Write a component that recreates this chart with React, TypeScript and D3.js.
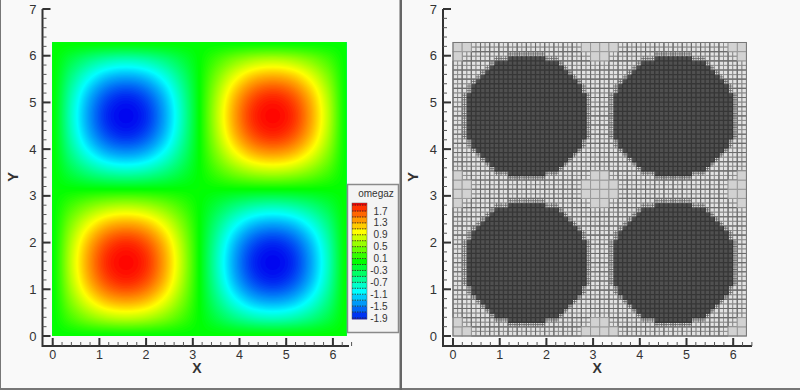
import React, { useMemo } from "react";
import * as d3 from "d3";

// --- data ---
const xTickValues = [0, 1, 2, 3, 4, 5, 6];
const yTickValues = [0, 1, 2, 3, 4, 5, 6, 7];
const legendLabels = [1.7, 1.3, 0.9, 0.5, 0.1, -0.3, -0.7, -1.1, -1.5, -1.9];
const colorStops = [-2, -1, 0, 1, 2];
const colorValues = ["#0000f0", "#00ffff", "#00ff00", "#ffff00", "#ff0000"];
// one quadrant of the omegaz field, sampled every pi/8 (y rows, x columns)
const omegaQuadrant = [
  [0, 0, 0, 0, 0, 0, 0, 0, 0],
  [0, 0.29, 0.54, 0.71, 0.77, 0.71, 0.54, 0.29, 0],
  [0, 0.54, 1.0, 1.31, 1.41, 1.31, 1.0, 0.54, 0],
  [0, 0.71, 1.31, 1.71, 1.85, 1.71, 1.31, 0.71, 0],
  [0, 0.77, 1.41, 1.85, 1.98, 1.85, 1.41, 0.77, 0],
  [0, 0.71, 1.31, 1.71, 1.85, 1.71, 1.31, 0.71, 0],
  [0, 0.54, 1.0, 1.31, 1.41, 1.31, 1.0, 0.54, 0],
  [0, 0.29, 0.54, 0.71, 0.77, 0.71, 0.54, 0.29, 0],
  [0, 0, 0, 0, 0, 0, 0, 0, 0],
];
// half width (in cells of pi/32) of each refined disc, per row counted from its centre
const discHalfWidths = [13, 13, 13, 13, 13, 12, 12, 11, 10, 9, 8, 7, 4];
// coarse (pi/16) blocks: [column, row] counted from bottom-left on a 32x32 lattice
const coarseBlocks = [
  [0, 0], [1, 0], [0, 1], [31, 0], [30, 0], [31, 1], [0, 31], [1, 31], [0, 30], [31, 31], [30, 31], [31, 30],
  [14, 0], [15, 0], [16, 0], [17, 0], [15, 1], [16, 1],
  [14, 31], [15, 31], [16, 31], [17, 31], [15, 30], [16, 30],
  [0, 14], [0, 15], [0, 16], [0, 17], [1, 15], [1, 16],
  [31, 14], [31, 15], [31, 16], [31, 17], [30, 15], [30, 16],
  [15, 14], [16, 14], [14, 15], [15, 15], [16, 15], [17, 15], [14, 16], [15, 16], [16, 16], [17, 16], [15, 17], [16, 17],
];
const TWO_PI = 6.2832;

const FONT = "'Liberation Sans', Arial, sans-serif";
const INK = "#333";
const BG = "#f9f9f9";

const xLeft = d3.scaleLinear().domain([0, 6]).range([52.7, 332.9]);
const xRight = d3.scaleLinear().domain([0, 6]).range([453, 733.2]);
const yS = d3.scaleLinear().domain([0, 7]).range([336, 9]);
const color = d3.scaleLinear<string>().domain(colorStops).range(colorValues).clamp(true);

function buildField() {
  const n = 16;
  const full: number[][] = [];
  for (let j = 0; j <= n; j++) {
    const row: number[] = [];
    for (let i = 0; i <= n; i++) {
      const sj = j > 8 ? -1 : 1;
      const si = i > 8 ? -1 : 1;
      const q = omegaQuadrant[j > 8 ? j - 8 : j][i > 8 ? i - 8 : i];
      row.push(q * si * sj);
    }
    full.push(row);
  }
  // Catmull-Rom upsampling for drawing only
  const f = 6;
  const N = n * f + 1;
  const at = (j: number, i: number) =>
    full[Math.max(0, Math.min(n, j))][Math.max(0, Math.min(n, i))];
  const cr = (a: number, b: number, c: number, d: number, t: number) =>
    0.5 * (2 * b + (c - a) * t + (2 * a - 5 * b + 4 * c - d) * t * t + (3 * b - a - 3 * c + d) * t * t * t);
  const out = new Array(N * N);
  for (let J = 0; J < N; J++) {
    const j = Math.min(n - 1, Math.floor(J / f));
    const tj = J / f - j;
    for (let I = 0; I < N; I++) {
      const i = Math.min(n - 1, Math.floor(I / f));
      const ti = I / f - i;
      const col = [-1, 0, 1, 2].map((dj) =>
        cr(at(j + dj, i - 1), at(j + dj, i), at(j + dj, i + 1), at(j + dj, i + 2), ti)
      );
      out[J * N + I] = cr(col[0], col[1], col[2], col[3], tj);
    }
  }
  return { values: out, N };
}

function FieldLayer() {
  const paths = useMemo(() => {
    const { values, N } = buildField();
    const thresholds = d3.range(-2.1, 2.1, 0.035);
    const conts = d3.contours().size([N, N]).thresholds(thresholds)(values);
    const h = TWO_PI / (N - 1);
    const tr = d3.geoTransform({
      point(x: number, y: number) {
        this.stream.point(xLeft((x - 0.5) * h), yS((y - 0.5) * h));
      },
    });
    const gp = d3.geoPath(tr);
    return conts.map((c) => ({ d: gp(c) || "", v: c.value }));
  }, []);
  return (
    <g clipPath="url(#fieldClip)">
      <rect x={xLeft(0)} y={yS(TWO_PI)} width={xLeft(TWO_PI) - xLeft(0)} height={yS(0) - yS(TWO_PI)} fill={color(-2.1)} />
      {paths.map((p, i) => (
        <path key={i} d={p.d} fill={color(p.v + 0.0175)} stroke="none" />
      ))}
    </g>
  );
}

function MeshLayer() {
  const m = 64; // lattice of pi/32 cells
  const h = TWO_PI / m;
  const px = (i: number) => xRight(i * h);
  const py = (j: number) => yS(j * h);
  const { darkCells, ring, fine, heavy } = useMemo(() => {
    const inDisc = (i: number, j: number) => {
      for (const cx of [16, 48]) {
        for (const cy of [16, 48]) {
          const k = j >= cy ? j - cy : cy - 1 - j;
          const hw = k < discHalfWidths.length ? discHalfWidths[k] : 0;
          if (i >= cx - hw && i < cx + hw) return true;
        }
      }
      return false;
    };
    const dark: number[][] = [];
    const ringCells: number[][] = [];
    for (let j = 0; j < m; j++) {
      for (let i = 0; i < m; i++) {
        if (inDisc(i, j)) dark.push([i, j]);
        else if (inDisc(i - 1, j) || inDisc(i + 1, j) || inDisc(i, j - 1) || inDisc(i, j + 1)) ringCells.push([i, j]);
      }
    }
    const coarseSet = new Set(coarseBlocks.map(([a, b]) => `${a},${b}`));
    let finePath = "";
    let heavyPath = "";
    for (let j = 0; j < m; j++) {
      for (let i = 0; i < m; i++) {
        const inCoarse = coarseSet.has(`${i >> 1},${j >> 1}`);
        if (inCoarse) continue;
        finePath += `M${px(i)},${py(j)}H${px(i + 1)}V${py(j + 1)}H${px(i)}Z`;
        if (i % 2 === 0) heavyPath += `M${px(i)},${py(j)}V${py(j + 1)}`;
        if (j % 2 === 0) heavyPath += `M${px(i)},${py(j)}H${px(i + 1)}`;
      }
    }
    return { darkCells: dark, ring: ringCells, fine: finePath, heavy: heavyPath };
  }, []);
  const cw = px(1) - px(0);
  const ch = py(0) - py(1);
  return (
    <g>
      <rect x={px(0)} y={py(m)} width={px(m) - px(0)} height={py(0) - py(m)} fill="#e2e2e2" />
      <path d={fine} fill="none" stroke="#8c8c8c" strokeWidth={0.8} />
      <path d={heavy} fill="none" stroke="#6c6c6c" strokeWidth={1.1} />
      {coarseBlocks.map(([a, b], i) => (
        <rect key={i} x={px(2 * a)} y={py(2 * b + 2)} width={2 * cw} height={2 * ch} fill="#d2d2d2" stroke="#9a9a9a" strokeWidth={1} />
      ))}
      {ring.map(([i, j], k) => (
        <path
          key={k}
          d={`M${px(i) + cw / 2},${py(j)}V${py(j + 1)}M${px(i)},${py(j) - ch / 2}H${px(i + 1)}`}
          stroke="#666"
          strokeWidth={0.8}
          fill="none"
        />
      ))}
      {darkCells.map(([i, j], k) => (
        <rect key={k} x={px(i)} y={py(j + 1)} width={cw + 0.3} height={ch + 0.3} fill="#505050" />
      ))}
      <path
        d={darkCells.map(([i, j]) => `M${px(i)},${py(j)}H${px(i + 1)}V${py(j + 1)}`).join("")}
        fill="none"
        stroke="#363636"
        strokeWidth={1.3}
      />
      <rect x={px(0)} y={py(m)} width={px(m) - px(0)} height={py(0) - py(m)} fill="none" stroke="#777" strokeWidth={1} />
    </g>
  );
}

function Axes({ x, axisX, endX, labelY }: { x: d3.ScaleLinear<number, number>; axisX: number; endX: number; labelY: number }) {
  const minorX = d3.range(0, 6.41, 0.2);
  const minorY = d3.range(0, 7.01, 0.2);
  const axisY = 346;
  const cx = (x(0) + x(6.3)) / 2 - 3;
  return (
    <g fontFamily={FONT} fill={INK}>
      <line x1={axisX} x2={axisX} y1={yS(7)} y2={axisY + 1} stroke={INK} strokeWidth={2} />
      <line x1={axisX} x2={endX} y1={axisY} y2={axisY} stroke={INK} strokeWidth={2} />
      {minorX.map((v) => (
        <line key={v} x1={x(v)} x2={x(v)} y1={axisY} y2={axisY - 4} stroke="#555" strokeWidth={1} />
      ))}
      {minorY.map((v) => (
        <line key={v} x1={axisX} x2={axisX + 4} y1={yS(v)} y2={yS(v)} stroke="#555" strokeWidth={1} />
      ))}
      {xTickValues.map((v) => (
        <g key={v}>
          <line x1={x(v)} x2={x(v)} y1={axisY} y2={axisY - 8} stroke={INK} strokeWidth={2} />
          <text x={x(v)} y={359} fontSize={12.5} textAnchor="middle">{v}</text>
        </g>
      ))}
      {yTickValues.map((v) => (
        <g key={v}>
          <line x1={axisX} x2={axisX + 8} y1={yS(v)} y2={yS(v)} stroke={INK} strokeWidth={2} />
          <text x={axisX - 6} y={yS(v) + 4.5} fontSize={13} textAnchor="end">{v}</text>
        </g>
      ))}
      <text x={cx} y={373} fontSize={14} fontWeight="bold" textAnchor="middle">X</text>
      <text transform={`translate(${labelY},177) rotate(-90)`} fontSize={14.5} fontWeight="bold" textAnchor="middle">Y</text>
    </g>
  );
}

function Legend() {
  const yL = d3.scaleLinear().domain([1.7, -1.9]).range([211, 318]);
  const bands = d3.range(-2.1, 2.0, 0.2).map((v) => +v.toFixed(1));
  const top = 203;
  const bottom = 319;
  return (
    <g fontFamily={FONT}>
      <rect x={347.5} y={184.5} width={51} height={148} fill="#f4f4f4" stroke="#8a8a8a" strokeWidth={1.5} />
      <text x={376} y={197} fontSize={10} textAnchor="middle" fill={INK}>omegaz</text>
      {bands.map((v) => {
        const y1 = Math.max(top, yL(v + 0.2));
        const y2 = Math.min(bottom, yL(v));
        if (y2 <= y1) return null;
        return <rect key={v} x={352} y={y1} width={15} height={y2 - y1 + 0.3} fill={color(v + 0.1)} />;
      })}
      {bands.map((v) => {
        const y = yL(v);
        if (y < top || y > bottom) return null;
        return <line key={v} x1={352} x2={367} y1={y} y2={y} stroke="#222" strokeWidth={0.8} strokeDasharray="1.5 1" />;
      })}
      <rect x={352} y={top} width={15} height={bottom - top} fill="none" stroke="#555" strokeWidth={0.5} />
      {legendLabels.map((v) => (
        <text key={v} x={387.5} y={yL(v) + 3.5} fontSize={10} textAnchor="end" fill={INK}>{v.toFixed(1)}</text>
      ))}
    </g>
  );
}

export default function App() {
  return (
    <svg width={800} height={390} style={{ position: "fixed", left: 0, top: 0, display: "block" }}>
      <defs>
        <clipPath id="fieldClip">
          <rect x={xLeft(0)} y={yS(TWO_PI)} width={xLeft(TWO_PI) - xLeft(0)} height={yS(0) - yS(TWO_PI)} />
        </clipPath>
      </defs>
      <rect width={800} height={390} fill={BG} />
      <rect x={0} y={0} width={1} height={390} fill="#777" />
      <rect x={0} y={388} width={800} height={2} fill="#777" />
      <rect x={399.5} y={0} width={2.5} height={390} fill="#666" />
      <FieldLayer />
      <MeshLayer />
      <Axes x={xLeft} axisX={42.5} endX={349} labelY={18} />
      <Axes x={xRight} axisX={443} endX={752} labelY={418} />
      <Legend />
    </svg>
  );
}
